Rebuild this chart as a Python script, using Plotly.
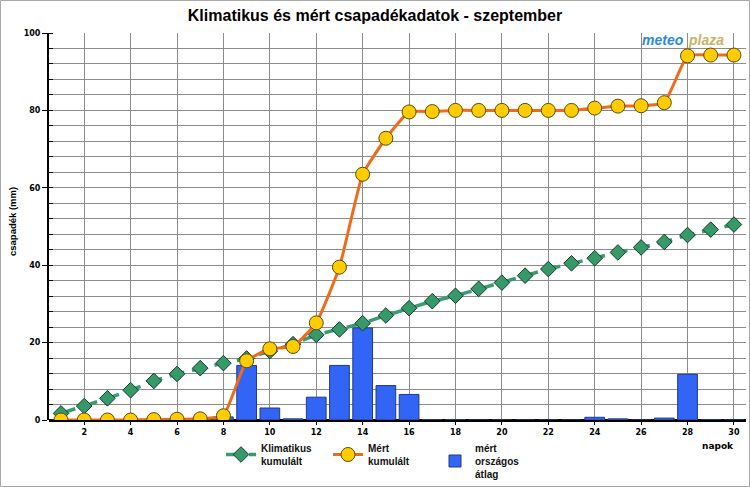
import plotly.graph_objects as go

days = list(range(1, 31))
klimatikus = [1.7, 3.6, 5.6, 7.7, 10.1, 11.9, 13.4, 14.7, 15.9, 17.8,
              19.6, 22.0, 23.4, 25.0, 27.0, 28.9, 30.7, 32.1, 33.9, 35.5,
              37.3, 39.0, 40.5, 41.8, 43.3, 44.6, 46.0, 47.8, 49.2, 50.5]
mert_kumulalt = [0.0, 0.0, 0.0, 0.0, 0.1, 0.2, 0.3, 1.1, 15.3, 18.4,
                 19.0, 25.1, 39.5, 63.5, 72.8, 79.6, 79.7, 80.0, 80.0, 80.0,
                 80.0, 80.0, 80.0, 80.6, 81.1, 81.2, 82.0, 94.1, 94.3, 94.3]
orszagos_atlag = [0, 0, 0, 0, 0, 0, 0, 0.8, 14.1, 3.1,
                  0.3, 5.9, 14.1, 23.8, 8.9, 6.6, 0.1, 0.1, 0, 0,
                  0, 0, 0, 0.7, 0.3, 0, 0.5, 11.8, 0.1, 0]
x_ticks = list(range(2, 31, 2))
y_ticks = [0, 20, 40, 60, 80, 100]

title_text = "Klimatikus és mért csapadékadatok - szeptember"
y_title = "csapadék (mm)"
x_title = "napok"

W, H = 750, 487
ML, MR, MT, MB = 49, 4, 33, 67
PW, PH = W - ML - MR, H - MT - MB

def px2x(px):
    return (px - ML) / PW

def px2y(py):
    return (H - MB - py) / PH

fig = go.Figure()

fig.add_trace(go.Bar(
    x=days, y=orszagos_atlag, name="<b>mért<br>országos<br>átlag</b>",
    width=0.85,
    marker=dict(color="#3264f5", line=dict(color="#1f3a8a", width=1)),
    legendrank=3,
))
fig.add_trace(go.Scatter(
    x=days, y=klimatikus, name="<b>Klimatikus<br>kumulált</b>", mode="lines+markers",
    line=dict(color="#3a9a74", width=3.5, dash="15px,8px"),
    marker=dict(symbol="diamond", size=12, color="#35996a",
                line=dict(color="#1a3a2a", width=1)),
    legendrank=1,
))
fig.add_trace(go.Scatter(
    x=days, y=mert_kumulalt, name="<b>Mért<br>kumulált</b>", mode="lines+markers",
    line=dict(color="#f06a1a", width=3, shape="spline", smoothing=0.4),
    marker=dict(symbol="circle", size=14, color="#ffcc00",
                line=dict(color="#5a4a10", width=1)),
    legendrank=2,
))

fig.update_layout(
    width=W, height=H,
    margin=dict(l=ML, r=MR, t=MT, b=MB, autoexpand=False),
    paper_bgcolor="white", plot_bgcolor="white",
    title=dict(text="<b>" + title_text + "</b>", x=0.5, xref="container", xanchor="center",
               y=1 - 15 / H, yanchor="middle",
               font=dict(family="Liberation Sans", size=16, color="black")),
    font=dict(family="Liberation Sans", color="black"),
    showlegend=True,
    legend=dict(orientation="h", x=px2x(221), xanchor="left", y=px2y(461), yanchor="middle",
                font=dict(family="Liberation Sans", size=10, color="#111"),
                entrywidth=62, entrywidthmode="pixels",
                bgcolor="rgba(0,0,0,0)", traceorder="normal"),
    bargap=0.15,
)

fig.update_xaxes(
    range=[0.483, 30.52], tickvals=x_ticks, ticktext=["<b>%d</b>" % t for t in x_ticks],
    tickfont=dict(family="DejaVu Sans", size=8, color="black"),
    ticks="outside", ticklen=4, tickcolor="black", tickwidth=1,
    showgrid=True, gridcolor="#8c8c8c", gridwidth=1,
    showline=False, zeroline=False, fixedrange=True,
)
fig.update_yaxes(
    range=[0, 100], tickvals=y_ticks, ticktext=["<b>%d</b>" % t for t in y_ticks],
    tickfont=dict(family="DejaVu Sans", size=8, color="black"),
    ticks="outside", ticklen=5, tickcolor="black", tickwidth=1,
    showgrid=True, gridcolor="#8c8c8c", gridwidth=1,
    minor=dict(dtick=4, showgrid=True, gridcolor="#8c8c8c", gridwidth=1,
               ticks="inside", ticklen=4, tickcolor="black"),
    showline=True, linecolor="black", linewidth=2,
    zeroline=True, zerolinecolor="black", zerolinewidth=3,
    fixedrange=True,
)

fig.add_annotation(
    text="<b>" + y_title + "</b>", xref="paper", yref="paper",
    x=px2x(12), y=px2y(222), xanchor="center", yanchor="middle", textangle=-90,
    showarrow=False, font=dict(family="Liberation Sans", size=9.5, color="black"),
)
fig.add_annotation(
    text="<b>" + x_title + "</b>", xref="paper", yref="paper",
    x=px2x(718), y=px2y(446), xanchor="center", yanchor="middle", showarrow=False,
    font=dict(family="DejaVu Sans", size=9, color="black"),
)
fig.add_annotation(
    text="<b><i>meteo</i></b>", xref="paper", yref="paper",
    x=px2x(686), y=px2y(40), xanchor="right", yanchor="middle", showarrow=False,
    font=dict(family="Liberation Sans", size=14, color="#2a8ad8"),
)
fig.add_annotation(
    text="<b><i>plaza</i></b>", xref="paper", yref="paper",
    x=px2x(686), y=px2y(40), xanchor="left", yanchor="middle", showarrow=False,
    font=dict(family="Liberation Sans", size=14, color="#c8b468"),
)
fig.add_shape(type="rect", xref="paper", yref="paper",
              x0=px2x(0.5), x1=px2x(749.5), y0=px2y(486.5), y1=px2y(0.5),
              line=dict(color="#a8a8a8", width=1), layer="above")

fig.write_html("out.html")
